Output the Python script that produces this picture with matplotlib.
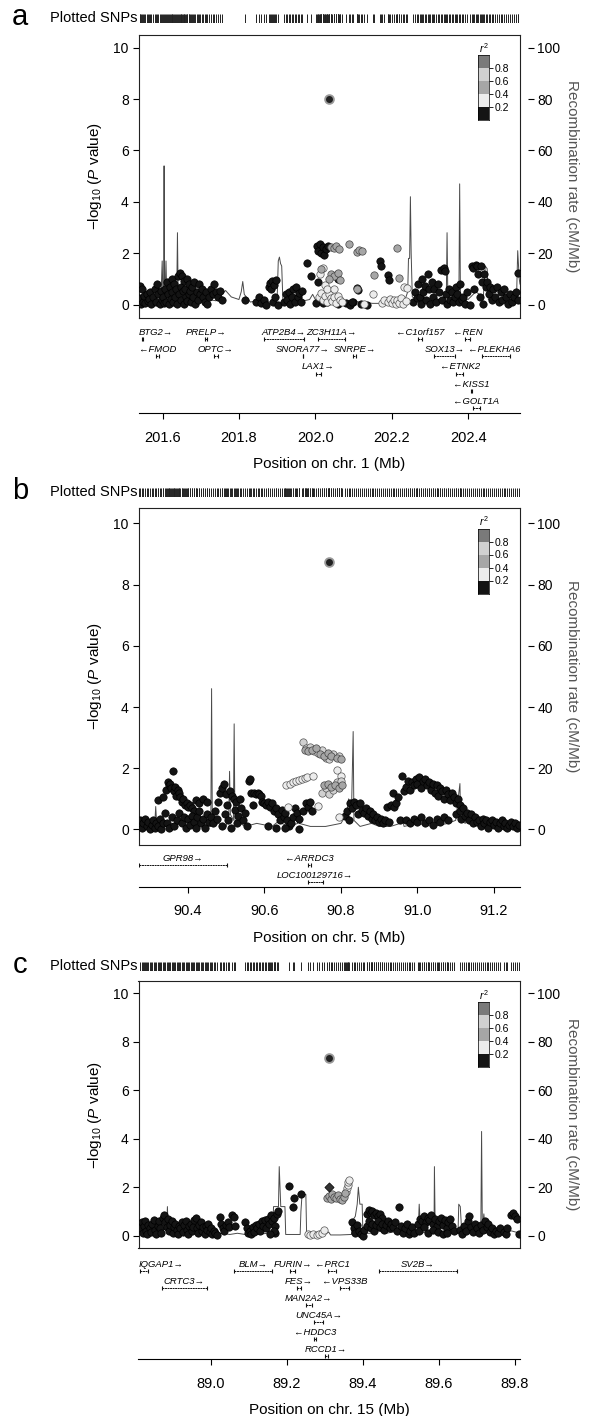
import matplotlib
matplotlib.use('Agg')
import matplotlib.pyplot as plt

plt.rcParams['font.family'] = ['Liberation Sans', 'DejaVu Sans']
plt.rcParams['mathtext.fontset'] = 'custom'
plt.rcParams['mathtext.rm'] = 'Liberation Sans'
plt.rcParams['mathtext.it'] = 'Liberation Sans:italic'
plt.rcParams['mathtext.bf'] = 'Liberation Sans:bold'

W, H = 594, 1416

# ---------------- panel a : chr 1 ----------------
a_xlim = (201.537, 202.536)
a_ticks = [201.6, 201.8, 202.0, 202.2, 202.4]
a_index = (202.037, 8.02)
a_lo = [(201.540, 0.72), (201.541, 0.25), (201.543, 0.02), (201.546, 0.6), (201.548, 0.1), (201.551, 0.35),
        (201.554, 0.05), (201.558, 0.42), (201.561, 0.15), (201.565, 0.22), (201.568, 0.5), (201.571, 0.02),
        (201.575, 0.3), (201.579, 0.62), (201.582, 0.12), (201.586, 0.8), (201.589, 0.4), (201.592, 0.02),
        (201.595, 0.52), (201.598, 0.2), (201.601, 0.3), (201.604, 0.05), (201.607, 0.62), (201.609, 0.12),
        (201.612, 0.9), (201.614, 0.42), (201.617, 0.02), (201.619, 0.7), (201.621, 0.22), (201.624, 1.0),
        (201.626, 0.5), (201.628, 0.1), (201.631, 0.8), (201.633, 0.3), (201.636, 0.6), (201.638, 0.02),
        (201.641, 1.1), (201.643, 0.42), (201.645, 1.22), (201.647, 0.7), (201.649, 0.2), (201.651, 1.12),
        (201.653, 0.52), (201.655, 0.02), (201.657, 0.92), (201.659, 0.62), (201.661, 0.3), (201.663, 1.0),
        (201.665, 0.15), (201.668, 0.8), (201.670, 0.42), (201.673, 0.52), (201.675, 0.1), (201.678, 0.7),
        (201.680, 0.3), (201.683, 0.9), (201.686, 0.02), (201.689, 0.5), (201.692, 0.2), (201.696, 0.82),
        (201.699, 0.4), (201.703, 0.62), (201.706, 0.3), (201.710, 0.1), (201.713, 0.5), (201.717, 0.02),
        (201.722, 0.3), (201.727, 0.62), (201.731, 0.42), (201.736, 0.8), (201.740, 0.5), (201.745, 0.3),
        (201.750, 0.55), (201.756, 0.2), (201.817, 0.2), (201.845, 0.1), (201.852, 0.3), (201.858, 0.05),
        (201.866, 0.2), (201.870, 0.0), (201.878, 0.7), (201.881, 0.85), (201.884, 0.6), (201.887, 0.92),
        (201.889, 0.1), (201.892, 0.75), (201.895, 0.3), (201.898, 0.95), (201.902, 0.0), (201.918, 0.1),
        (201.922, 0.42), (201.926, 0.2), (201.930, 0.5), (201.934, 0.02), (201.938, 0.3), (201.942, 0.62),
        (201.946, 0.12), (201.950, 0.7), (201.954, 0.3), (201.958, 0.45), (201.962, 0.1), (201.966, 0.55),
        (201.977, 1.62), (201.990, 1.1), (202.004, 2.3), (202.008, 2.1), (202.012, 2.35), (202.016, 2.0),
        (202.020, 2.25), (202.024, 1.95), (202.028, 2.15), (202.032, 2.3), (202.007, 0.9), (202.055, 1.17),
        (202.060, 1.0), (202.108, 0.65), (202.113, 0.58), (202.169, 1.68), (202.172, 1.5), (202.190, 1.17),
        (202.193, 0.97), (202.003, 0.05), (202.030, 0.1), (202.060, 0.02), (202.080, 0.05), (202.100, 0.1),
        (202.120, 0.02), (202.135, 0.0), (202.090, 0.0), (202.095, 0.12), (202.020, 0.05),
        (202.255, 0.1), (202.260, 0.5), (202.265, 0.25), (202.270, 0.8), (202.273, 0.3), (202.276, 0.02),
        (202.280, 1.0), (202.283, 0.5), (202.287, 0.72), (202.290, 0.2), (202.295, 1.2), (202.298, 0.6),
        (202.300, 0.02), (202.305, 0.9), (202.308, 0.3), (202.312, 0.62), (202.316, 0.1), (202.320, 0.8),
        (202.325, 0.5), (202.330, 1.35), (202.333, 0.2), (202.336, 1.42), (202.340, 1.3), (202.342, 0.4),
        (202.345, 0.02), (202.350, 0.6), (202.353, 0.2), (202.357, 0.5), (202.360, 0.1), (202.365, 0.3),
        (202.368, 0.7), (202.372, 0.4), (202.376, 0.1), (202.380, 0.8), (202.384, 0.2), (202.388, 0.3),
        (202.392, 0.02), (202.396, 0.5), (202.405, 0.0), (202.410, 1.5), (202.413, 1.42), (202.416, 0.6),
        (202.420, 1.55), (202.423, 1.5), (202.426, 1.2), (202.430, 0.3), (202.433, 1.5), (202.436, 0.9),
        (202.440, 0.02), (202.443, 1.2), (202.446, 0.7), (202.450, 0.9), (202.454, 0.4), (202.458, 0.7),
        (202.462, 0.2), (202.466, 0.6), (202.470, 0.3), (202.475, 0.7), (202.480, 0.1), (202.485, 0.5),
        (202.490, 0.2), (202.495, 0.6), (202.500, 0.3), (202.505, 0.02), (202.510, 0.4), (202.515, 0.1),
        (202.520, 0.3), (202.525, 0.5), (202.530, 1.25), (202.532, 0.2)]
a_light = [(202.010, 0.3), (202.015, 0.45), (202.020, 0.2), (202.025, 0.35), (202.030, 0.1), (202.035, 0.42),
           (202.040, 0.25), (202.045, 0.15), (202.050, 0.3), (202.055, 0.05), (202.060, 0.35), (202.065, 0.2),
           (202.070, 0.1), (202.012, 1.2), (202.020, 1.42), (202.025, 0.75), (202.030, 0.6), (202.048, 0.6),
           (202.150, 0.4), (202.232, 0.68), (202.240, 0.65), (202.175, 0.05), (202.180, 0.2), (202.190, 0.1),
           (202.195, 0.22), (202.200, 0.05), (202.205, 0.18), (202.210, 0.02), (202.215, 0.2), (202.220, 0.08),
           (202.225, 0.25), (202.230, 0.02), (202.238, 0.15), (202.128, 0.02)]
a_mid = [(202.040, 2.25), (202.048, 2.2), (202.055, 2.28), (202.062, 2.15), (202.087, 2.36), (202.108, 2.05),
         (202.115, 2.12), (202.122, 2.08), (202.215, 2.2), (202.015, 1.38), (202.040, 1.2), (202.050, 1.1),
         (202.060, 1.25), (202.065, 0.95), (202.035, 1.0), (202.110, 0.62), (202.153, 1.15), (202.218, 1.05)]
a_pale = []
a_rec = [(201.537, 14), (201.540, 3), (201.555, 1), (201.575, 2), (201.596, 3), (201.599, 17), (201.601, 4),
         (201.603, 3), (201.604, 54), (201.605, 3), (201.607, 6), (201.609, 17), (201.611, 2), (201.625, 1),
         (201.637, 2), (201.639, 28), (201.641, 2), (201.66, 3), (201.68, 2), (201.70, 1), (201.72, 2),
         (201.74, 1.5), (201.755, 4), (201.765, 5.5), (201.78, 3), (201.80, 2), (201.806, 5), (201.81, 9),
         (201.814, 4), (201.83, 1), (201.86, 2), (201.88, 1), (201.90, 2), (201.903, 17), (201.906, 18.5),
         (201.909, 16), (201.912, 15), (201.915, 2), (201.93, 1), (201.95, 1), (201.97, 1.5), (201.985, 2),
         (201.993, 4), (202.0, 2), (202.02, 1), (202.05, 1), (202.08, 1.5), (202.12, 1), (202.15, 0.5),
         (202.18, 0.5), (202.2, 0.5), (202.22, 1), (202.235, 2), (202.242, 5), (202.244, 18), (202.247, 18),
         (202.249, 42), (202.251, 20), (202.254, 3), (202.27, 2), (202.3, 1.5), (202.32, 2), (202.343, 3),
         (202.345, 28), (202.347, 3), (202.36, 4), (202.376, 3), (202.378, 47), (202.380, 3), (202.40, 2),
         (202.42, 5), (202.44, 3), (202.445, 15), (202.45, 14), (202.453, 2), (202.47, 2), (202.49, 1.5),
         (202.51, 2), (202.527, 3), (202.530, 21), (202.534, 10), (202.536, 8)]
a_gene_names = ['BTG2', 'PRELP', 'ATP2B4', 'ZC3H11A', 'C1orf157', 'REN', 'FMOD', 'OPTC', 'SNORA77',
                'SNRPE', 'SOX13', 'PLEKHA6', 'LAX1', 'ETNK2', 'KISS1', 'GOLT1A']
a_gene_start = [201.545, 201.712, 201.866, 202.007, 202.270, 202.392, 201.582, 201.734, 201.967,
                202.099, 202.312, 202.436, 202.003, 202.369, 202.407, 202.412]
a_gene_end = [201.549, 201.717, 201.970, 202.077, 202.279, 202.405, 201.590, 201.745, 201.968,
              202.106, 202.366, 202.510, 202.014, 202.388, 202.409, 202.430]
a_gene_strand = [1, 1, 1, 1, -1, -1, -1, 1, 1, 1, 1, -1, 1, -1, -1, -1]
a_gene_row = [0, 0, 0, 0, 0, 0, 1, 1, 1, 1, 1, 1, 2, 2, 3, 4]

# ---------------- panel b : chr 5 ----------------
b_xlim = (90.271, 91.268)
b_ticks = [90.4, 90.6, 90.8, 91.0, 91.2]
b_index = (90.769, 8.75)
b_lo = [(90.272, 0.1), (90.276, 0.3), (90.280, 0.05), (90.284, 0.2), (90.288, 0.35), (90.292, 0.1),
        (90.296, 0.25), (90.300, 0.02), (90.305, 0.15), (90.310, 0.3), (90.314, 0.05), (90.318, 0.2),
        (90.322, 0.1), (90.326, 0.35), (90.330, 0.02), (90.334, 0.2), (90.322, 0.95), (90.336, 1.05),
        (90.340, 0.55), (90.344, 1.3), (90.347, 1.55), (90.350, 1.45), (90.353, 1.5), (90.356, 1.35),
        (90.360, 1.9), (90.363, 1.25), (90.366, 1.4), (90.370, 1.1), (90.373, 1.3), (90.376, 1.2),
        (90.380, 1.05), (90.384, 0.9), (90.388, 1.0), (90.392, 0.8), (90.397, 0.85), (90.400, 0.75),
        (90.405, 0.8), (90.410, 0.7), (90.415, 0.6), (90.345, 0.2), (90.352, 0.05), (90.358, 0.4),
        (90.365, 0.1), (90.372, 0.3), (90.378, 0.55), (90.385, 0.2), (90.390, 0.4), (90.395, 0.05),
        (90.400, 0.35), (90.405, 0.15), (90.410, 0.45), (90.415, 0.25), (90.420, 0.05), (90.425, 0.4),
        (90.430, 0.6), (90.435, 0.2), (90.440, 0.35), (90.445, 0.05), (90.450, 0.5), (90.455, 0.25),
        (90.460, 0.4), (90.420, 0.95), (90.430, 0.85), (90.440, 1.0), (90.450, 0.9), (90.465, 0.2),
        (90.470, 0.6), (90.475, 0.35), (90.480, 0.9), (90.485, 1.2), (90.488, 1.35), (90.490, 0.1),
        (90.495, 1.5), (90.498, 0.5), (90.500, 1.15), (90.503, 0.8), (90.505, 0.3), (90.510, 1.25),
        (90.512, 0.05), (90.515, 1.1), (90.520, 1.0), (90.522, 0.65), (90.525, 0.9), (90.528, 0.2),
        (90.532, 0.45), (90.535, 1.0), (90.540, 0.7), (90.545, 0.3), (90.550, 0.55), (90.555, 0.1),
        (90.560, 1.6), (90.562, 1.65), (90.566, 1.2), (90.570, 0.8), (90.574, 1.2), (90.578, 1.15),
        (90.582, 1.2), (90.586, 1.15), (90.590, 1.1), (90.594, 0.9), (90.600, 0.85), (90.605, 0.8),
        (90.610, 0.9), (90.615, 0.75), (90.620, 0.85), (90.625, 0.6), (90.630, 0.7), (90.635, 0.5),
        (90.640, 0.3), (90.645, 0.65), (90.650, 0.4), (90.655, 0.55), (90.660, 0.3), (90.665, 0.1),
        (90.670, 0.2), (90.675, 0.42), (90.680, 0.7), (90.685, 0.55), (90.690, 0.35), (90.700, 0.6),
        (90.710, 0.85), (90.715, 0.75), (90.720, 0.9), (90.725, 0.6), (90.610, 0.1), (90.630, 0.05),
        (90.655, 0.05), (90.690, 0.02), (90.810, 0.45), (90.815, 0.6), (90.820, 0.3), (90.825, 0.85),
        (90.830, 0.7), (90.835, 0.9), (90.840, 0.8), (90.845, 0.5), (90.850, 0.85), (90.855, 0.65),
        (90.860, 0.55), (90.865, 0.7), (90.870, 0.45), (90.875, 0.6), (90.880, 0.35), (90.885, 0.5),
        (90.890, 0.3), (90.895, 0.4), (90.900, 0.25), (90.905, 0.35), (90.910, 0.2), (90.915, 0.3),
        (90.920, 0.75), (90.925, 0.25), (90.930, 0.8), (90.935, 1.18), (90.940, 0.75), (90.945, 0.85),
        (90.950, 1.05), (90.955, 0.3), (90.960, 1.75), (90.965, 1.25), (90.970, 1.4), (90.975, 1.6),
        (90.980, 1.3), (90.985, 1.55), (90.990, 1.45), (90.995, 1.65), (91.000, 1.5), (91.005, 1.7),
        (91.010, 1.35), (91.015, 1.6), (91.020, 1.65), (91.025, 1.45), (91.030, 1.55), (91.035, 1.3),
        (91.040, 1.5), (91.045, 1.2), (91.050, 1.45), (91.055, 1.1), (91.060, 1.35), (91.065, 1.25),
        (91.070, 1.0), (91.075, 1.3), (91.080, 1.15), (91.085, 0.95), (91.090, 1.2), (91.095, 1.05),
        (91.100, 0.85), (91.105, 1.0), (91.110, 0.8), (90.970, 0.3), (90.980, 0.2), (90.990, 0.35),
        (91.000, 0.25), (91.010, 0.4), (91.020, 0.2), (91.030, 0.3), (91.040, 0.15), (91.050, 0.35),
        (91.060, 0.25), (91.070, 0.4), (91.080, 0.3), (91.100, 0.5), (91.110, 0.6), (91.115, 0.35),
        (91.120, 0.7), (91.125, 0.45), (91.130, 0.55), (91.135, 0.3), (91.140, 0.5), (91.145, 0.2),
        (91.150, 0.4), (91.155, 0.25), (91.160, 0.3), (91.165, 0.1), (91.170, 0.35), (91.175, 0.2),
        (91.180, 0.3), (91.185, 0.05), (91.190, 0.25), (91.195, 0.3), (91.200, 0.15), (91.205, 0.25),
        (91.210, 0.05), (91.215, 0.2), (91.220, 0.3), (91.225, 0.1), (91.230, 0.2), (91.235, 0.05),
        (91.240, 0.15), (91.245, 0.25), (91.250, 0.1), (91.255, 0.2), (91.260, 0.05), (91.265, 0.15)]
b_light = [(90.657, 1.45), (90.662, 0.72), (90.668, 1.5), (90.675, 1.55), (90.682, 1.58), (90.690, 1.62),
           (90.697, 1.65), (90.705, 1.68), (90.712, 1.72), (90.728, 1.75), (90.741, 0.77), (90.794, 0.42),
           (90.790, 1.95), (90.800, 1.75)]
b_mid = [(90.705, 2.6), (90.715, 2.55), (90.725, 2.6), (90.735, 2.65), (90.745, 2.45), (90.755, 2.4),
         (90.765, 2.5), (90.775, 2.4), (90.790, 2.35), (90.800, 2.3), (90.755, 1.45), (90.765, 1.5),
         (90.775, 1.4), (90.785, 1.45), (90.795, 1.35), (90.803, 1.45)]
b_pale = [(90.700, 2.85), (90.710, 2.65), (90.720, 2.7), (90.730, 2.55), (90.740, 2.5), (90.750, 2.6),
          (90.760, 2.35), (90.770, 2.3), (90.780, 2.45), (90.795, 2.4), (90.750, 1.2), (90.760, 1.35),
          (90.770, 1.15), (90.780, 1.3), (90.790, 1.55), (90.800, 1.6)]
b_rec = [(90.271, 1), (90.29, 2), (90.31, 1), (90.314, 3), (90.316, 7.5), (90.318, 3), (90.33, 1),
         (90.36, 2), (90.40, 1), (90.43, 2), (90.46, 1), (90.462, 46), (90.464, 1), (90.48, 2), (90.50, 1),
         (90.507, 5), (90.509, 19), (90.511, 5), (90.519, 3), (90.521, 34.5), (90.523, 3), (90.55, 1),
         (90.58, 2), (90.62, 1), (90.64, 3), (90.642, 5.5), (90.645, 2), (90.665, 1), (90.687, 2),
         (90.689, 5), (90.691, 2), (90.72, 1), (90.76, 1), (90.80, 2), (90.815, 5), (90.82, 10),
         (90.828, 8), (90.832, 32), (90.834, 3), (90.85, 1), (90.88, 2), (90.90, 1), (90.93, 1),
         (90.955, 2), (90.96, 4), (90.965, 1), (91.0, 2), (91.04, 1), (91.08, 2), (91.10, 3), (91.111, 15),
         (91.113, 3), (91.125, 2), (91.13, 6), (91.135, 2), (91.17, 1), (91.20, 2), (91.24, 1), (91.268, 2)]
b_gene_names = ['GPR98', 'ARRDC3', 'LOC100129716']
b_gene_start = [90.272, 90.713, 90.713]
b_gene_end = [90.501, 90.722, 90.753]
b_gene_strand = [1, -1, 1]
b_gene_row = [0, 0, 1]

# ---------------- panel c : chr 15 ----------------
c_xlim = (88.81, 89.813)
c_ticks = [89.0, 89.2, 89.4, 89.6, 89.8]
c_index = (89.312, 7.32)
c_diamond = (89.312, 2.02)
c_lo = [(88.815, 0.3), (88.818, 0.55), (88.821, 0.1), (88.824, 0.4), (88.827, 0.62), (88.830, 0.2),
        (88.833, 0.05), (88.836, 0.45), (88.840, 0.3), (88.843, 0.15), (88.846, 0.5), (88.850, 0.65),
        (88.853, 0.25), (88.856, 0.05), (88.860, 0.4), (88.864, 0.6), (88.867, 0.3), (88.870, 0.1),
        (88.874, 0.75), (88.877, 0.85), (88.880, 0.55), (88.884, 0.35), (88.887, 0.7), (88.890, 0.2),
        (88.894, 0.45), (88.897, 0.6), (88.900, 0.1), (88.904, 0.35), (88.907, 0.5), (88.910, 0.25),
        (88.914, 0.05), (88.917, 0.4), (88.920, 0.3), (88.924, 0.55), (88.927, 0.15), (88.930, 0.45),
        (88.934, 0.6), (88.937, 0.25), (88.940, 0.05), (88.944, 0.4), (88.947, 0.5), (88.950, 0.2),
        (88.954, 0.35), (88.957, 0.65), (88.960, 0.75), (88.964, 0.3), (88.967, 0.1), (88.970, 0.45),
        (88.974, 0.55), (88.977, 0.2), (88.980, 0.35), (88.984, 0.05), (88.987, 0.4), (88.990, 0.25),
        (88.994, 0.5), (88.997, 0.15), (89.000, 0.3), (89.004, 0.05), (89.008, 0.2), (89.012, 0.1),
        (89.016, 0.02), (89.024, 0.78), (89.028, 0.5), (89.032, 0.3), (89.036, 0.2), (89.040, 0.45),
        (89.044, 0.55), (89.048, 0.37), (89.055, 0.84), (89.060, 0.78), (89.064, 0.4), (89.090, 0.55),
        (89.094, 0.3), (89.098, 0.1), (89.102, 0.2), (89.106, 0.05), (89.110, 0.35), (89.114, 0.15),
        (89.118, 0.45), (89.122, 0.3), (89.126, 0.5), (89.130, 0.2), (89.134, 0.6), (89.138, 0.4),
        (89.142, 0.65), (89.146, 0.3), (89.150, 0.7), (89.154, 0.5), (89.158, 0.85), (89.162, 0.6),
        (89.166, 0.75), (89.170, 0.4), (89.174, 0.9), (89.178, 1.0), (89.170, 0.1), (89.165, 0.2),
        (89.155, 0.05), (89.205, 2.06), (89.220, 1.54), (89.217, 1.2), (89.238, 1.72), (89.372, 0.58),
        (89.376, 0.3), (89.380, 0.1), (89.385, 0.45), (89.390, 0.2), (89.395, 0.05), (89.400, 0.0),
        (89.403, 0.25), (89.410, 0.9), (89.415, 1.05), (89.420, 0.95), (89.425, 1.0), (89.430, 0.85),
        (89.435, 0.95), (89.440, 0.8), (89.445, 0.9), (89.450, 0.75), (89.410, 0.4), (89.415, 0.6),
        (89.420, 0.3), (89.425, 0.5), (89.430, 0.2), (89.435, 0.45), (89.440, 0.6), (89.445, 0.35),
        (89.450, 0.5), (89.455, 0.25), (89.460, 0.45), (89.465, 0.6), (89.470, 0.3), (89.475, 0.5),
        (89.480, 0.35), (89.485, 0.55), (89.490, 0.2), (89.494, 1.2), (89.500, 0.4), (89.505, 0.1),
        (89.510, 0.3), (89.515, 0.5), (89.520, 0.05), (89.525, 0.2), (89.530, 0.35), (89.535, 0.1),
        (89.545, 0.5), (89.550, 0.7), (89.555, 0.6), (89.560, 0.8), (89.565, 0.55), (89.570, 0.75),
        (89.575, 0.65), (89.580, 0.85), (89.585, 0.5), (89.590, 0.7), (89.595, 0.4), (89.600, 0.6),
        (89.605, 0.75), (89.610, 0.45), (89.615, 0.65), (89.620, 0.3), (89.625, 0.55), (89.630, 0.7),
        (89.635, 0.4), (89.640, 0.2), (89.548, 0.2), (89.560, 0.35), (89.572, 0.1), (89.585, 0.25),
        (89.598, 0.15), (89.610, 0.05), (89.620, 0.1), (89.655, 0.25), (89.660, 0.05), (89.665, 0.4),
        (89.670, 0.2), (89.675, 0.6), (89.680, 0.8), (89.685, 0.35), (89.690, 0.15), (89.695, 0.5),
        (89.700, 0.3), (89.705, 0.1), (89.710, 0.45), (89.715, 0.25), (89.720, 0.6), (89.725, 0.35),
        (89.730, 0.5), (89.735, 0.15), (89.740, 0.3), (89.745, 0.05), (89.750, 0.2), (89.755, 0.1),
        (89.760, 0.3), (89.770, 0.15), (89.775, 0.05), (89.780, 0.3), (89.790, 0.85), (89.795, 0.92),
        (89.800, 0.8), (89.805, 0.7), (89.810, 0.05)]
c_light = [(89.255, 0.05), (89.262, 0.02), (89.270, 0.08), (89.278, 0.03), (89.285, 0.06), (89.292, 0.1),
           (89.298, 0.23), (89.355, 1.8), (89.358, 1.95), (89.360, 2.1), (89.362, 2.22), (89.364, 2.28)]
c_mid = [(89.305, 1.54), (89.310, 1.65), (89.315, 1.5), (89.320, 1.7), (89.325, 1.6), (89.330, 1.55),
         (89.335, 1.68), (89.340, 1.5), (89.345, 1.47), (89.350, 1.6), (89.353, 1.75)]
c_pale = []
c_rec = [(88.81, 0.5), (88.83, 1), (88.85, 0.5), (88.87, 2), (88.884, 3), (88.886, 12), (88.888, 3),
         (88.90, 1), (88.92, 0.5), (88.95, 1), (88.98, 0.5), (89.0, 0.5), (89.03, 1), (89.05, 0.5),
         (89.07, 1), (89.09, 0.5), (89.12, 0.5), (89.15, 1), (89.163, 2), (89.165, 12), (89.178, 12),
         (89.18, 28.5), (89.184, 12), (89.195, 12), (89.197, 0.5), (89.235, 0.5), (89.237, 10), (89.24, 17),
         (89.25, 17), (89.252, 0.5), (89.28, 0.3), (89.30, 0.5), (89.31, 1.5), (89.315, 0.3), (89.34, 0.3),
         (89.37, 0.5), (89.372, 6), (89.38, 8), (89.385, 13), (89.388, 20), (89.392, 13), (89.398, 13),
         (89.40, 1), (89.42, 1), (89.44, 2), (89.46, 1), (89.50, 2), (89.52, 5), (89.53, 3), (89.545, 1),
         (89.548, 13), (89.552, 1), (89.58, 2), (89.587, 3), (89.588, 28.5), (89.59, 3), (89.62, 1),
         (89.65, 1), (89.652, 13), (89.656, 12), (89.66, 1), (89.69, 2), (89.70, 1), (89.71, 2),
         (89.712, 43), (89.714, 2), (89.718, 9), (89.722, 1), (89.75, 2), (89.77, 1), (89.79, 2), (89.813, 1)]
c_gene_names = ['IQGAP1', 'BLM', 'FURIN', 'PRC1', 'SV2B', 'CRTC3', 'FES', 'VPS33B', 'MAN2A2',
                'UNC45A', 'HDDC3', 'RCCD1']
c_gene_start = [88.813, 89.061, 89.209, 89.309, 89.442, 88.871, 89.226, 89.340, 89.250, 89.271, 89.272, 89.300]
c_gene_end = [88.834, 89.162, 89.221, 89.329, 89.648, 88.990, 89.237, 89.363, 89.265, 89.296, 89.277, 89.307]
c_gene_strand = [1, 1, 1, -1, 1, 1, 1, -1, 1, 1, -1, 1]
c_gene_row = [0, 0, 0, 0, 0, 1, 1, 1, 2, 3, 4, 5]

r2_edges = [0.0, 0.2, 0.4, 0.6, 0.8, 1.0]
r2_colors = ['#141414', '#ececec', '#a6a6a6', '#d0d0d0', '#7a7a7a']


def px(l, t, r, b):
    return [l / W, 1 - b / H, (r - l) / W, (b - t) / H]


fig = plt.figure(figsize=(W / 100, H / 100), dpi=100)
label_fix = []

def panel(letter, chrom, top, bot, gaxis, gylim, rug_y, xlim, ticks, lo, light, mid, pale, index,
          rec, names, starts, ends, strands, rows, extra=None):
    L, R = 138.5, 520
    ax = fig.add_axes(px(L, top, R, bot))
    rx = ax.twinx()
    ax.set_zorder(rx.get_zorder() + 1)
    ax.patch.set_visible(False)

    rp, rr = zip(*rec)
    rx.plot(rp, rr, color='#4a4a4a', lw=0.7)
    rx.set_ylim(-5, 105)
    rx.set_yticks([0, 20, 40, 60, 80, 100])
    for s in rx.spines.values():
        s.set_visible(False)
    rx.spines['right'].set_position(('outward', 6))
    rx.tick_params(axis='y', direction='out', length=4.5, width=0.8, pad=2, labelsize=10)
    rx.set_ylabel('Recombination rate (cM/Mb)', rotation=270, fontsize=11, labelpad=13, color='#555555')

    ax.set_xlim(*xlim)
    ax.set_ylim(-0.5, 10.5)
    ax.set_xticks([])
    ax.set_yticks([0, 2, 4, 6, 8, 10])
    ax.tick_params(axis='y', direction='out', length=4, width=0.8, pad=3, labelsize=10)
    for s in ax.spines.values():
        s.set_linewidth(0.8)
        s.set_color('#222222')
    ax.set_ylabel(r'$-$log$_{10}$ ($P$ value)', fontsize=11)
    ax.yaxis.set_label_coords(-0.09, 0.5)

    groups = [(lo, r2_colors[0], '#000000'), (light, r2_colors[1], '#555555'),
              (pale, r2_colors[3], '#555555'), (mid, r2_colors[2], '#444444')]
    allx = [index[0]]
    for pts, fc, ec in groups:
        if not pts:
            continue
        xs, ys = zip(*pts)
        allx += list(xs)
        ax.scatter(xs, ys, s=28, c=fc, edgecolors=ec, linewidths=0.5, zorder=3)
    if extra is not None:
        ax.scatter([extra[0]], [extra[1]], s=22, marker='D', c='#333333', edgecolors='#000000',
                   linewidths=0.5, zorder=4)
    ax.scatter([index[0]], [index[1]], s=40, c='#222222', edgecolors='#9a9a9a', linewidths=1.3, zorder=5)

    # r2 key
    cb = fig.add_axes(px(478, top + 20.5, 489, top + 85.5))
    cb.bar(0, [0.2] * 5, bottom=r2_edges[:-1], width=1, color=r2_colors, edgecolor='none')
    cb.set_xlim(-0.5, 0.5)
    cb.set_ylim(0, 1)
    cb.set_xticks([])
    cb.yaxis.tick_right()
    cb.set_yticks(r2_edges[1:-1])
    cb.set_yticklabels(['%.1f' % v for v in r2_edges[1:-1]])
    cb.tick_params(axis='y', length=3, width=0.6, pad=1, labelsize=7.5)
    for s in cb.spines.values():
        s.set_linewidth(0.5)
    cb.set_title('$r^2$', fontsize=7.5, pad=1.5)

    # genes
    gx = fig.add_axes(px(L, bot, R, gaxis))
    gx.patch.set_visible(False)
    gx.set_xlim(*xlim)
    gx.set_ylim(*gylim)
    for k in ['top', 'left', 'right']:
        gx.spines[k].set_visible(False)
    gx.spines['bottom'].set_linewidth(0.8)
    gx.set_yticks([])
    gx.set_xticks(ticks)
    gx.set_xticklabels(['%.1f' % t for t in ticks])
    gx.tick_params(axis='x', direction='out', length=4.5, width=0.8, pad=8, labelsize=10.5)
    gx.set_xlabel('Position on chr. %s (Mb)' % chrom, fontsize=11, labelpad=9)
    for name, s, e, st, row in zip(names, starts, ends, strands, rows):
        gx.plot([s, e], [-row, -row], color='#111111', lw=0.7, ls=(0, (2, 0.6)), solid_capstyle='butt')
        gx.plot([s, e], [-row, -row], ls='none', marker='|', ms=2.5, mew=0.8, color='#111111')
        text = name + '\u2192' if st > 0 else '\u2190' + name
        t = gx.annotate(text, ((s + e) / 2, -row), xytext=(0, 1.5), textcoords='offset points',
                        ha='center', va='bottom', fontsize=6.8, style='italic')
        label_fix.append((gx, t, xlim, -row))

    # plotted SNPs rug
    rg = fig.add_axes(px(L, rug_y - 4.5, R, rug_y + 4.5))
    rg.vlines(allx, 0, 1, color='#222222', lw=0.7)
    rg.set_xlim(*xlim)
    rg.set_ylim(0, 1)
    rg.axis('off')
    fig.text(137 / W, 1 - rug_y / H, 'Plotted SNPs', ha='right', va='center', fontsize=10.5)
    fig.text(20 / W, 1 - (rug_y - 1) / H, letter, ha='center', va='center', fontsize=21)


panel('a', '1', 34.8, 317.5, 413.3, (-4.29, 1.23), 18, a_xlim, a_ticks, a_lo, a_light, a_mid, a_pale,
      a_index, a_rec, a_gene_names, a_gene_start, a_gene_end, a_gene_strand, a_gene_row)
panel('b', '5', 508, 844.8, 886.7, (-1.28, 1.18), 492.5, b_xlim, b_ticks, b_lo, b_light, b_mid, b_pale,
      b_index, b_rec, b_gene_names, b_gene_start, b_gene_end, b_gene_strand, b_gene_row)
panel('c', '15', 981.2, 1247.8, 1359.3, (-5.21, 1.34), 966, c_xlim, c_ticks, c_lo, c_light, c_mid, c_pale,
      c_index, c_rec, c_gene_names, c_gene_start, c_gene_end, c_gene_strand, c_gene_row, extra=c_diamond)

# keep gene labels inside the plotting width
fig.canvas.draw()
for gx, t, xlim, y in label_fix:
    bb = t.get_window_extent()
    abb = gx.get_window_extent()
    if bb.x0 < abb.x0:
        t.xy = (xlim[0], y)
        t.set_ha('left')
    elif bb.x1 > abb.x1:
        t.xy = (xlim[1], y)
        t.set_ha('right')

fig.savefig('out.png', dpi=100)
